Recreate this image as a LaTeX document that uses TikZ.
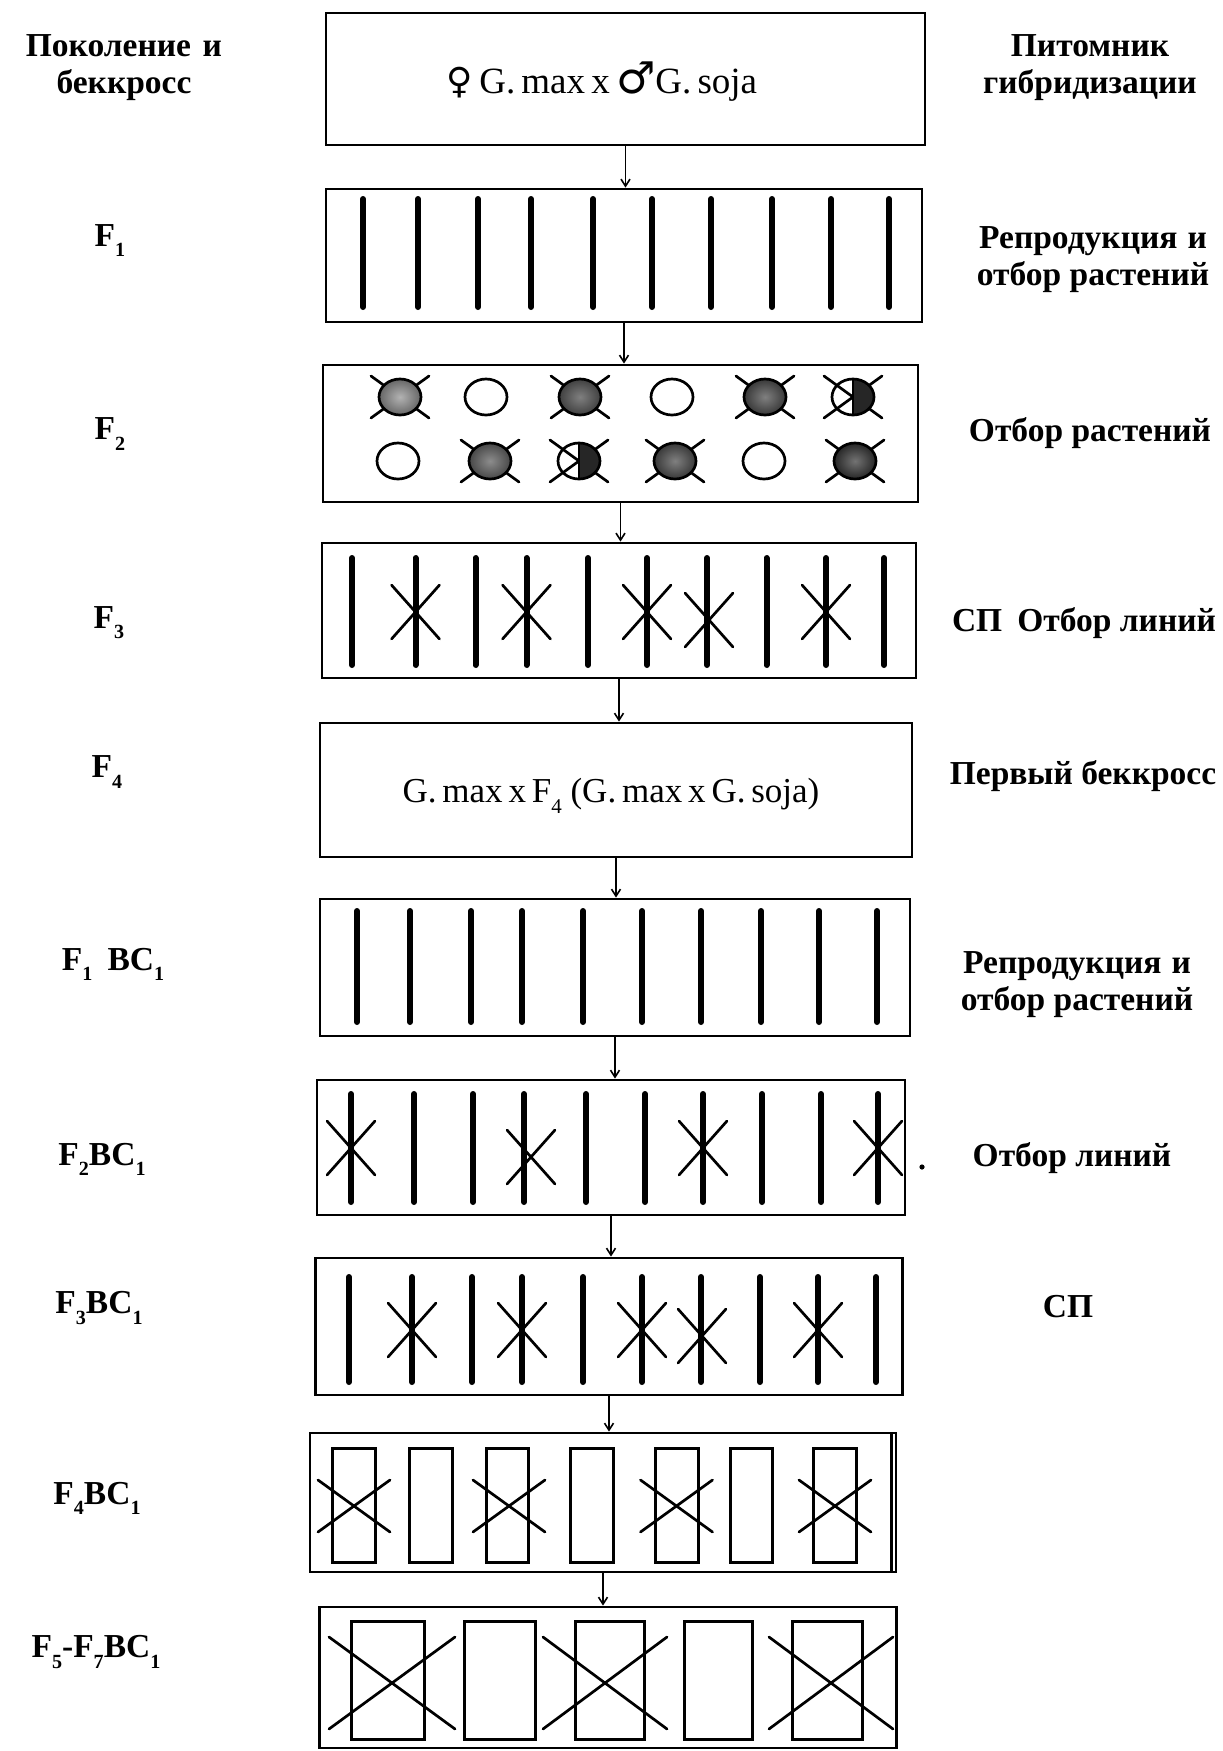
\documentclass[tikz,border=0pt]{standalone}
\usepackage{fontspec}
\setmainfont{Liberation Serif}
\newfontfamily\symfont{DejaVu Sans}
\usetikzlibrary{arrows.meta,calc}
\newcommand\lowidx[1]{\raisebox{-0.3em}{\scalebox{0.6}{#1}}}
\newcommand\stemcross[2]{\draw[xline] (#1-24,#2-27) -- (#1+24,#2+27); \draw[xline] (#1-24,#2+27) -- (#1+24,#2-27);}
\newcommand\circross[2]{\draw[xline] (#1-29,#2-21) -- (#1+29,#2+21); \draw[xline] (#1-29,#2+21) -- (#1+29,#2-21);}
\newcommand\opencirc[2]{\draw[circ, fill=white] (#1,#2) ellipse [x radius=21pt, y radius=18pt];}
\newcommand\fullcirc[4]{\circross{#1}{#2}\draw[circ, inner color=#3, outer color=#4] (#1,#2) ellipse [x radius=21pt, y radius=18pt];}
\newcommand\halfcirc[2]{\circross{#1}{#2}
  \begin{scope}\clip (#1,#2-22) rectangle (#1+25,#2+22);
  \fill[black!85] (#1,#2) ellipse [x radius=21pt, y radius=18pt];\end{scope}
  \draw[circ] (#1,#2) ellipse [x radius=21pt, y radius=18pt];
  \draw[circ] (#1,#2-18) -- (#1,#2+18);}
\newcommand\cellcross[4]{\draw[xline] (#1-#3,#2-#4) -- (#1+#3,#2+#4); \draw[xline] (#1-#3,#2+#4) -- (#1+#3,#2-#4);}
\tikzset{
  box/.style={draw, line width=2.8pt, rectangle, inner sep=0pt},
  arr/.style={line width=1.6pt, -{Straight Barb[length=7pt,width=9pt,line width=1.6pt]}},
  stem/.style={line width=6pt, line cap=round},
  xline/.style={line width=2.7pt, line cap=round},
  circ/.style={line width=2.7pt},
  cell/.style={line width=3pt},
  lbl/.style={font=\fontsize{33.5}{37}\selectfont\bfseries, align=center, inner sep=0pt},
  boxtext/.style={font=\fontsize{35}{38}\selectfont, inner sep=0pt},
}
\begin{document}
\begin{tikzpicture}[x=1pt,y=-1pt]
\useasboundingbox (0,0) rectangle (1223,1751);
\fill[white] (0,0) rectangle (1223,1751);

% boxes
\node[box, minimum width=599pt, minimum height=132pt] (b1) at (625.5,79) {};
\node[box, minimum width=596pt, minimum height=133pt] (b2) at (624,255.5) {};
\node[box, minimum width=595pt, minimum height=137pt] (b3) at (620.5,433.5) {};
\node[box, minimum width=594pt, minimum height=135pt] (b4) at (619,610.5) {};
\node[box, minimum width=592pt, minimum height=134pt] (b5) at (616,790) {};
\node[box, minimum width=590pt, minimum height=137pt] (b6) at (615,967.5) {};
\node[box, minimum width=588pt, minimum height=135pt] (b7) at (611,1147.5) {};
\node[box, minimum width=587pt, minimum height=137pt] (b8) at (609,1326.5) {};
\node[box, minimum width=586pt, minimum height=139pt] (b9) at (603,1502.5) {};
\node[box, minimum width=577pt, minimum height=141pt] (b10) at (608,1677.5) {};

% arrows
\draw[arr] (b1.south) -- (b1.south |- b2.north);
\draw[arr] (b2.south) -- (b2.south |- b3.north);
\draw[arr] (b3.south) -- (b3.south |- b4.north);
\draw[arr] (b4.south) -- (b4.south |- b5.north);
\draw[arr] (b5.south) -- (b5.south |- b6.north);
\draw[arr] (b6.south) -- (b6.south |- b7.north);
\draw[arr] (b7.south) -- (b7.south |- b8.north);
\draw[arr] (b8.south) -- (b8.south |- b9.north);
\draw[arr] (b9.south) -- (b9.south |- b10.north);

% box texts
\node[boxtext, font=\fontsize{37}{38}\selectfont] (t1) at (602,82) {{\symfont\fontsize{36}{38}\selectfont ♀}\,G.\,max\,x\,{\symfont\fontsize{44}{38}\selectfont ♂}G.\,soja};
\node[boxtext] (t5) at (611,796) {G.\,max\,x\,F\lowidx{4} (G.\,max\,x\,G.\,soja)};

% F1 stems
\foreach \x in {363,418,478,531,593,652,711,772,831,889}
  \draw[stem] (\x,199) -- (\x,307);

% F2 circles
\fullcirc{400}{397}{black!30}{black!60}
\opencirc{486}{397}
\fullcirc{580}{397}{black!50}{black!75}
\opencirc{672}{397}
\fullcirc{765}{397}{black!50}{black!78}
\halfcirc{853}{397}
\opencirc{398}{461}
\fullcirc{490}{461}{black!45}{black!72}
\halfcirc{579}{461}
\fullcirc{675}{461}{black!50}{black!78}
\opencirc{764}{461}
\fullcirc{855}{461}{black!55}{black!85}

% F3 stems
\foreach \x in {352,415.5,475.5,526.5,588,647,707,766.5,826,884}
  \draw[stem] (\x,558) -- (\x,665);
\stemcross{415.5}{612}
\stemcross{526.5}{612}
\stemcross{647}{612}
\stemcross{709}{620}
\stemcross{826}{612}

% F1BC1 stems
\foreach \x in {357,410,471,522,583,642,701,761,819,877}
  \draw[stem] (\x,911) -- (\x,1022);

% F2BC1 stems
\foreach \x in {351,414,473,524,586,645,703,762,821,878}
  \draw[stem] (\x,1094) -- (\x,1202);
\stemcross{351}{1148}
\stemcross{531}{1157}
\stemcross{703}{1148}
\stemcross{878}{1148}
\fill (922,1167) circle (2.6pt);

% F3BC1 stems
\foreach \x in {349,412,472,522,583,642,701,760,818,876}
  \draw[stem] (\x,1277) -- (\x,1382);
\stemcross{412}{1330}
\stemcross{522}{1330}
\stemcross{642}{1330}
\stemcross{702}{1336}
\stemcross{818}{1330}

% F4BC1 cells
\foreach \l/\r in {332/375.5,409/452,486/528.5,570.5/613.5,655/698,730.6/772.7,813.5/856}
  \draw[cell] (\l,1448) rectangle (\r,1562);
\draw[cell] (891,1433) -- (891,1572);
\cellcross{354}{1506}{36}{26}
\cellcross{509}{1506}{36}{26}
\cellcross{676.5}{1506}{36}{26}
\cellcross{835}{1506}{36}{26}

% F5-F7BC1 cells
\foreach \l/\r in {351/424,464/535.5,575/644,684/752,792/862}
  \draw[cell] (\l,1621) rectangle (\r,1739);
\cellcross{392}{1683}{63}{46}
\cellcross{605}{1683}{62}{46}
\cellcross{831}{1683}{62}{46}

% left labels
\node[lbl] (l0) at (124,68) {Поколение\hspace{0.35em}и\\беккросс};
\node[lbl] (l1) at (110,241) {F\lowidx{1}};
\node[lbl] (l2) at (110,434) {F\lowidx{2}};
\node[lbl] (l3) at (109,623) {F\lowidx{3}};
\node[lbl] (l4) at (107,772) {F\lowidx{4}};
\node[lbl] (l5) at (113,964) {F\lowidx{1}\hspace{0.45em}BC\lowidx{1}};
\node[lbl] (l6) at (102,1159) {F\lowidx{2}BC\lowidx{1}};
\node[lbl] (l7) at (99,1308) {F\lowidx{3}BC\lowidx{1}};
\node[lbl] (l8) at (97,1498) {F\lowidx{4}BC\lowidx{1}};
\node[lbl] (l9) at (96,1652) {F\lowidx{5}-F\lowidx{7}BC\lowidx{1}};

% right labels
\node[lbl] (r0) at (1090,68) {Питомник\\гибридизации};
\node[lbl] (r1) at (1093,260) {Репродукция\hspace{0.3em}и\\отбор растений};
\node[lbl] (r2) at (1090,433) {Отбор растений};
\node[lbl] (r3) at (1084,623) {СП\hspace{0.45em}Отбор линий};
\node[lbl] (r4) at (1083,776) {Первый беккросс};
\node[lbl] (r5) at (1077,985) {Репродукция\hspace{0.3em}и\\отбор растений};
\node[lbl] (r6) at (1072,1158) {Отбор линий};
\node[lbl] (r7) at (1068,1307) {СП};
\end{tikzpicture}
\end{document}
